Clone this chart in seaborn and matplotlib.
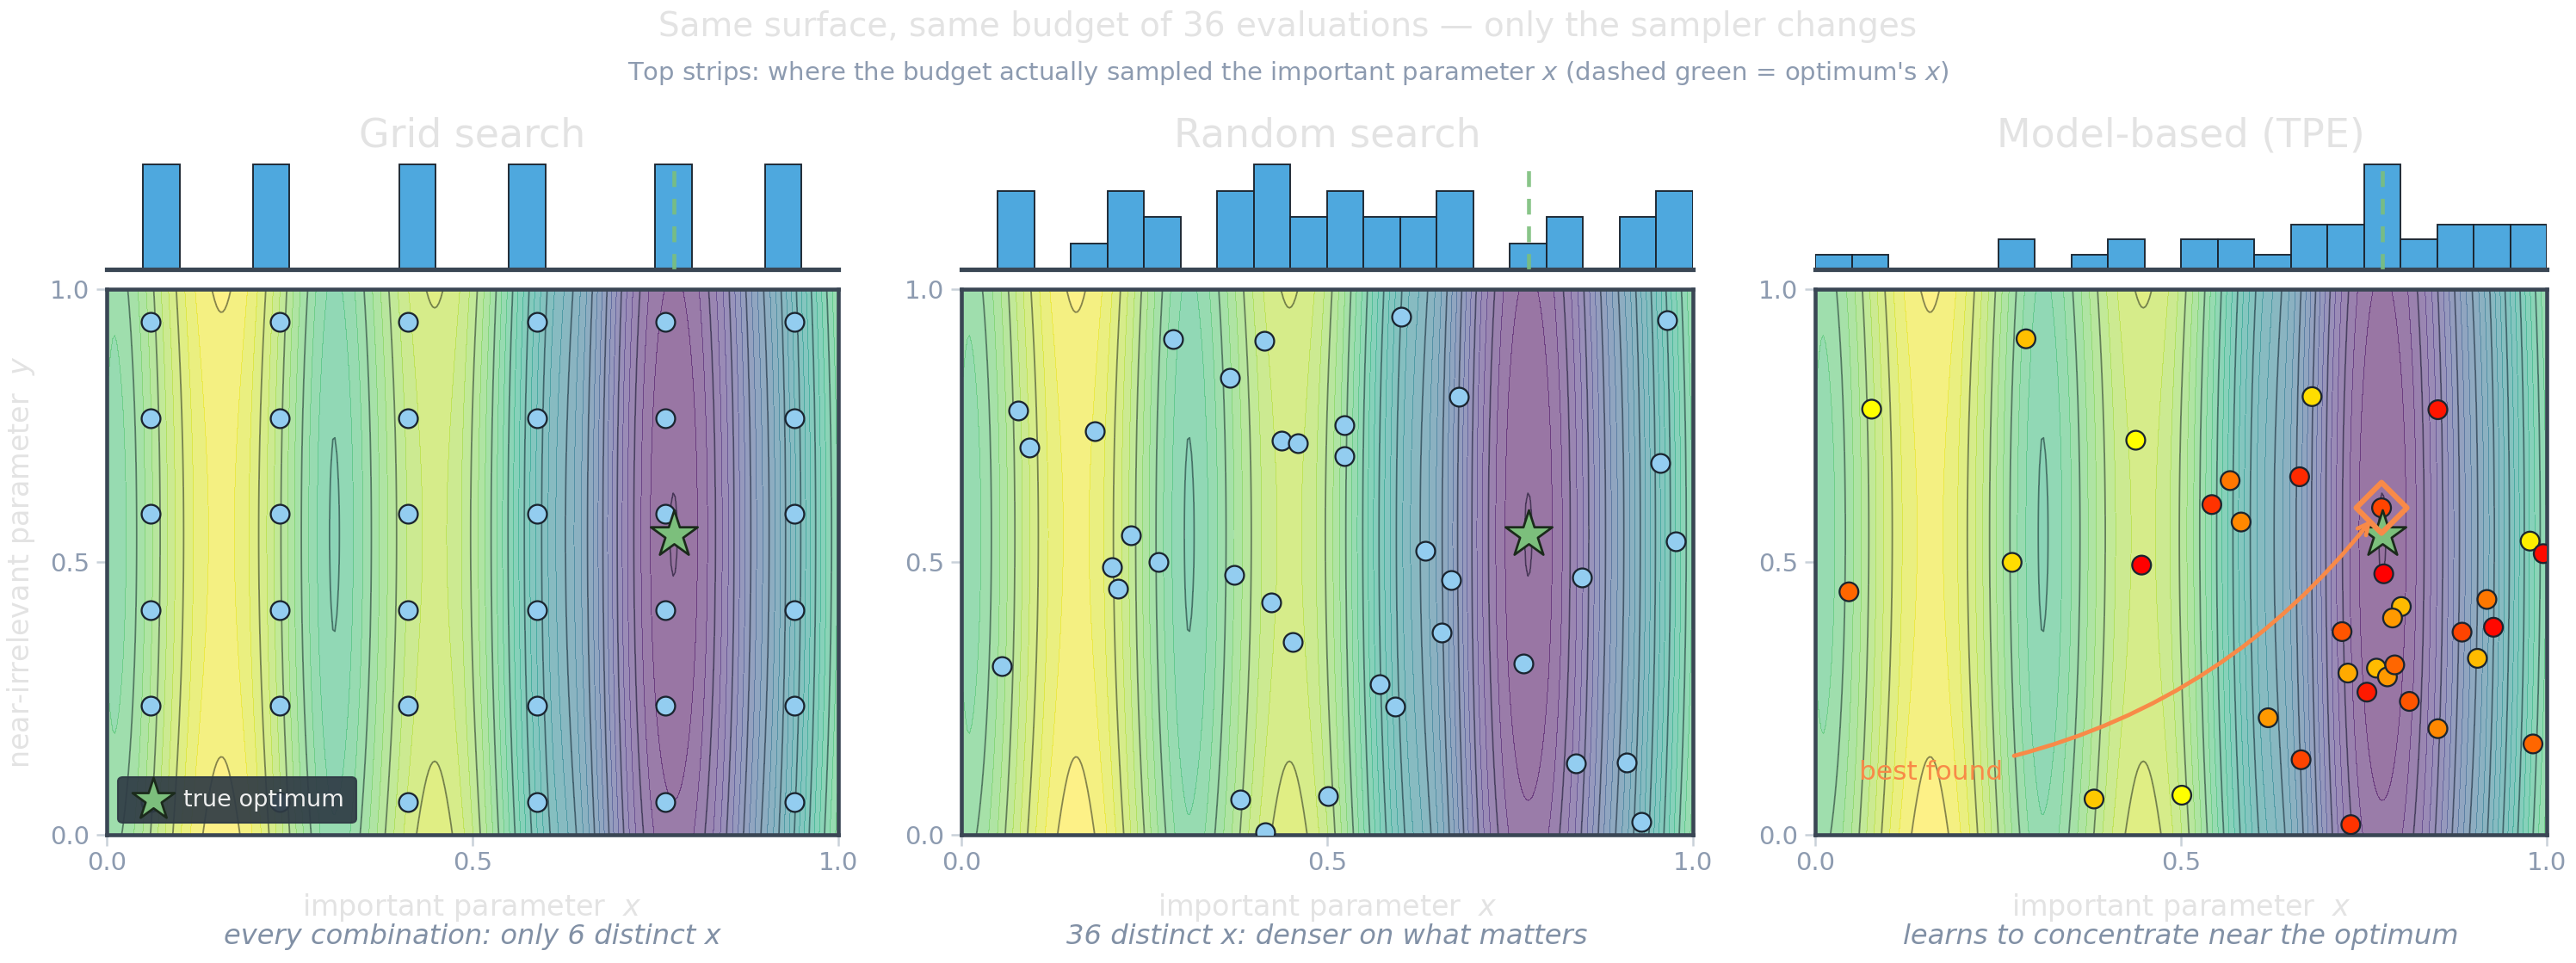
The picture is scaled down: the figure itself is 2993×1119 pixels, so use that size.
import numpy as np
import pandas as pd
import matplotlib
matplotlib.use("Agg")
import matplotlib.pyplot as plt
import seaborn as sns

# ---------------- data ----------------
OPT_X, OPT_Y = 0.775, 0.55

grid_levels = [0.06, 0.236, 0.412, 0.588, 0.764, 0.94]
grid_x = [gx for gx in grid_levels for gy in grid_levels]
grid_y = [gy for gx in grid_levels for gy in grid_levels]

rand_x = [0.078, 0.093, 0.055, 0.182, 0.232, 0.206, 0.214, 0.269, 0.290, 0.367,
          0.373, 0.414, 0.438, 0.460, 0.423, 0.453, 0.381, 0.415, 0.501, 0.524,
          0.524, 0.601, 0.680, 0.634, 0.669, 0.657, 0.572, 0.593, 0.768, 0.848,
          0.840, 0.909, 0.930, 0.955, 0.965, 0.977]
rand_y = [0.778, 0.709, 0.308, 0.740, 0.549, 0.490, 0.451, 0.499, 0.909, 0.837,
          0.476, 0.906, 0.723, 0.718, 0.425, 0.353, 0.064, 0.004, 0.070, 0.750,
          0.694, 0.949, 0.802, 0.521, 0.466, 0.370, 0.275, 0.235, 0.313, 0.471,
          0.130, 0.132, 0.023, 0.682, 0.944, 0.537]

tpe_x = [0.077, 0.046, 0.288, 0.269, 0.438, 0.446, 0.381, 0.501, 0.542, 0.567,
         0.582, 0.679, 0.662, 0.774, 0.777, 0.851, 0.801, 0.789, 0.720, 0.918,
         0.884, 0.927, 0.905, 0.728, 0.767, 0.782, 0.792, 0.754, 0.812, 0.619,
         0.851, 0.664, 0.732, 0.977, 0.995, 0.981]
tpe_y = [0.780, 0.445, 0.909, 0.499, 0.723, 0.494, 0.065, 0.072, 0.605, 0.649,
         0.573, 0.803, 0.656, 0.599, 0.478, 0.779, 0.418, 0.397, 0.372, 0.431,
         0.371, 0.380, 0.323, 0.296, 0.305, 0.289, 0.311, 0.261, 0.244, 0.214,
         0.194, 0.137, 0.018, 0.538, 0.515, 0.166]
tpe_colors = ["#ffff00", "#ff6600", "#ffc000", "#ffdd00", "#ffff00", "#ff0000",
              "#ffc800", "#ffff00", "#ff3300", "#ff7700", "#ff8800", "#ffdd00",
              "#ff2a00", "#ff4400", "#ff0000", "#ff1500", "#ffbb00", "#ff9900",
              "#ff5500", "#ff7700", "#ff4400", "#ff0800", "#ffbb00", "#ffaa00",
              "#ffbb00", "#ff9900", "#ff6600", "#ff1a00", "#ff5500", "#ff9900",
              "#ff8800", "#ff4400", "#ff3300", "#ffee00", "#ff0a00", "#ff6600"]
BEST_X, BEST_Y = 0.774, 0.599

titles = ["Grid search", "Random search", "Model-based (TPE)"]
captions = ["every combination: only 6 distinct x",
            "36 distinct x: denser on what matters",
            "learns to concentrate near the optimum"]
tick_vals = [0.0, 0.5, 1.0]
tick_labels = ["0.0", "0.5", "1.0"]

# ---------------- style ----------------
sns.set_style("white")
plt.rcParams["font.family"] = ["DejaVu Sans"]

TICK_C = "#8d9bb0"
LIGHT_C = "#e3e3e3"
SPINE_C = "#3a4654"
BAR_C = "#4ea8de"
PT_C = "#93cdf0"
GREEN = "#7cbf7c"
ORANGE = "#f88a48"

fig = plt.figure(figsize=(2993 / 150, 1119 / 150), dpi=150)

lefts = [0.0414, 0.3732, 0.7047]
W = 0.284
MAIN_B, MAIN_H = 0.1335, 0.5662
HIST_B, HIST_H = 0.7203, 0.1144


# objective surface
def surface(x, y):
    d = np.abs(x - OPT_X)
    well = 0.5 / (1.0 + (d / 0.125) ** 4) + 0.5 / (1.0 + (d / 0.13) ** 2)
    c = np.cos(2 * np.pi * (x - 0.16) / 0.3)
    base = 0.72 + 0.3 * ((c + 1) / 2) ** 0.8 - 0.09 * x
    return base * (1 - well) + 0.12 * (y - 0.55) ** 2


xs = np.linspace(0, 1, 360)
ys = np.linspace(0, 1, 360)
XX, YY = np.meshgrid(xs, ys)
ZZ = surface(XX, YY)
L0 = surface(0.16, 0.14)
STEP = L0 - surface(0.46, 0.10)
line_levels = np.sort(L0 - STEP * np.arange(0, int((L0 - ZZ.min()) / STEP) + 1))
fill_levels = np.sort(L0 + STEP - STEP / 3 * np.arange(0, int((L0 + STEP - ZZ.min()) / (STEP / 3)) + 2))

datasets = [
    pd.DataFrame({"x": grid_x, "y": grid_y}),
    pd.DataFrame({"x": rand_x, "y": rand_y}),
    pd.DataFrame({"x": tpe_x, "y": tpe_y, "c": tpe_colors}),
]

for i in range(3):
    df = datasets[i]
    ax = fig.add_axes([lefts[i], MAIN_B, W, MAIN_H])
    hx = fig.add_axes([lefts[i], HIST_B, W, HIST_H])

    ax.contourf(XX, YY, ZZ, levels=fill_levels, cmap="viridis", alpha=0.55,
                vmin=ZZ.min(), vmax=ZZ.max(), zorder=0)
    ax.contour(XX, YY, ZZ, levels=line_levels, colors="#2e3440",
               linewidths=0.9, alpha=0.55, zorder=1)

    if i < 2:
        sns.scatterplot(data=df, x="x", y="y", ax=ax, s=110, color=PT_C,
                        edgecolor="#1b2530", linewidth=1.1, zorder=3, legend=False)
    else:
        sns.scatterplot(data=df, x="x", y="y", ax=ax, s=110, hue="c",
                        palette={c: c for c in tpe_colors},
                        edgecolor="#1b2530", linewidth=1.1, zorder=3, legend=False)

    ax.scatter([OPT_X], [OPT_Y], marker="*", s=750, color=GREEN,
               edgecolor="#1b2a1b", linewidth=1.3, zorder=5,
               label="true optimum")

    if i == 2:
        ax.scatter([BEST_X], [BEST_Y], marker="D", s=400, facecolor="none",
                   edgecolor=ORANGE, linewidth=3, zorder=6)
        ax.annotate("best found", xy=(BEST_X - 0.014, BEST_Y - 0.022),
                    xytext=(0.06, 0.114), textcoords="data",
                    ha="left", va="center", color=ORANGE, fontsize=15,
                    arrowprops=dict(arrowstyle="->", color=ORANGE, lw=2.3,
                                    connectionstyle="arc3,rad=0.2",
                                    shrinkA=4, shrinkB=0),
                    zorder=7)

    if i == 0:
        ax.legend(loc="lower left", fontsize=13, facecolor="#2f3b45",
                  edgecolor="#2f3b45", framealpha=0.92,
                  labelcolor="#eeeeee", borderpad=0.5,
                  handletextpad=0.3, markerscale=0.9)
        ax.set_ylabel("near-irrelevant parameter  $y$", color=LIGHT_C,
                      fontsize=16, labelpad=7)
    else:
        ax.set_ylabel("")

    ax.set_xlim(0, 1)
    ax.set_ylim(0, 1)
    ax.set_xticks(tick_vals)
    ax.set_xticklabels(tick_labels)
    ax.set_yticks(tick_vals)
    ax.set_yticklabels(tick_labels)
    ax.tick_params(axis="both", colors="#c9d1d9", labelcolor=TICK_C,
                   labelsize=14, length=6, width=1.2, direction="out",
                   bottom=True, left=True)
    for sp in ax.spines.values():
        sp.set_color(SPINE_C)
        sp.set_linewidth(2.2)
        sp.set_visible(True)
    ax.set_xlabel("important parameter  $x$", color=LIGHT_C, fontsize=16,
                  labelpad=9)

    # top strip histogram
    sns.histplot(data=df, x="x", bins=20, binrange=(0, 1), ax=hx,
                 color=BAR_C, alpha=1.0, edgecolor="#1b2530", linewidth=0.9)
    hx.axvline(OPT_X, color=GREEN, ls=(0, (4, 3)), lw=2.2, alpha=0.9, zorder=5)
    hx.set_xlim(0, 1)
    hx.set_xticks([])
    hx.set_yticks([])
    hx.set_xlabel("")
    hx.set_ylabel("")
    for k in ["top", "left", "right"]:
        hx.spines[k].set_visible(False)
    hx.spines["bottom"].set_color(SPINE_C)
    hx.spines["bottom"].set_linewidth(2.5)
    hx.set_title(titles[i], color=LIGHT_C, fontsize=22, pad=7)

    fig.text(lefts[i] + W / 2, 0.027, captions[i], ha="center", va="center",
             fontsize=15.4, style="italic", color="#8190a5")

fig.text(0.5, 0.972,
         "Same surface, same budget of 36 evaluations \u2014 only the sampler changes",
         ha="center", va="center", fontsize=18.7, color=LIGHT_C)
fig.text(0.5, 0.924,
         "Top strips: where the budget actually sampled the important parameter $x$ "
         "(dashed green = optimum's $x$)",
         ha="center", va="center", fontsize=14, color=TICK_C)

fig.savefig("out.png", dpi=150)
